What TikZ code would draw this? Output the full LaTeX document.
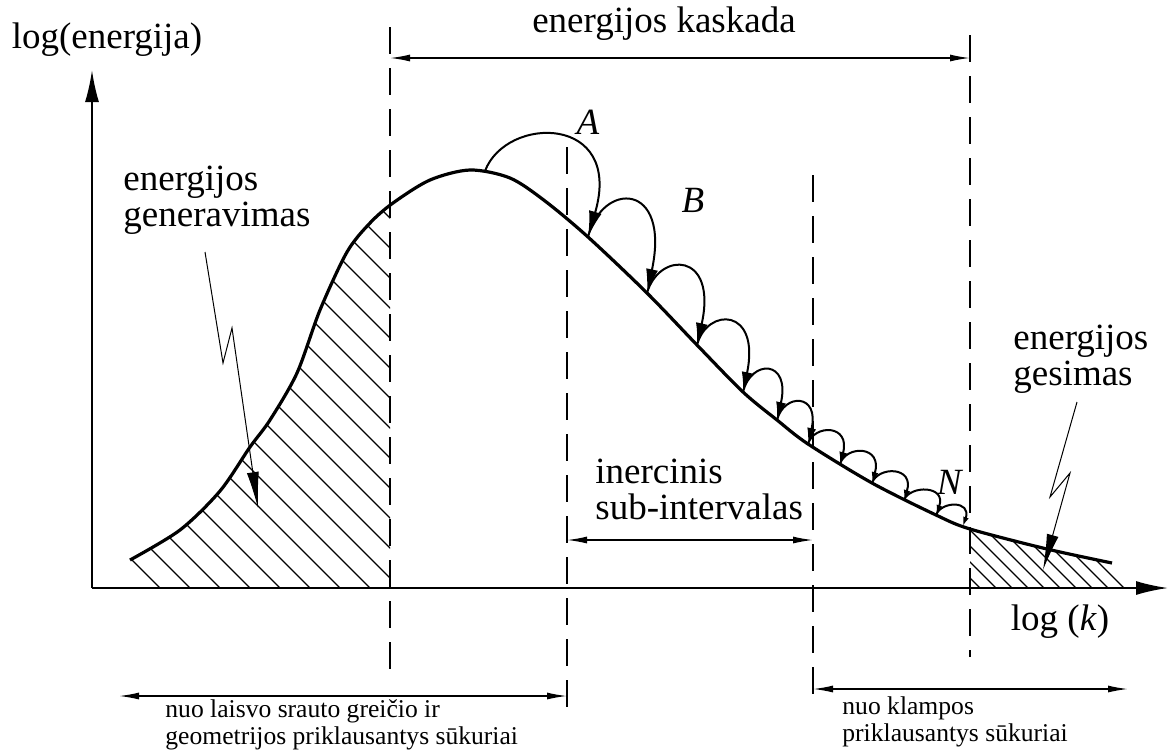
\documentclass[tikz,border=0pt]{standalone}
\usepackage{fontspec}
\setmainfont{Liberation Serif}
\usetikzlibrary{arrows.meta}

\tikzset{
  axis/.style={line width=1pt, -{Latex[length=16pt,width=7pt]}},
  spectrum/.style={line width=1.6pt},
  guide/.style={line width=0.7pt, dash pattern=on 13.5pt off 7pt},
  span/.style={line width=0.7pt, {Latex[length=10pt,width=3.5pt]}-{Latex[length=10pt,width=3.5pt]}},
  hatch/.style={line width=0.6pt},
  pointer/.style={line width=0.5pt, -{Latex[length=18pt,width=6pt]}},
  eddy/.style={line width=1pt},
  lbl/.style={font=\fontsize{18.5}{18}\selectfont, align=left, inner sep=0pt},
  note/.style={font=\fontsize{12.8}{13.2}\selectfont, align=left, inner sep=0pt},
}

% energy spectrum (pixel units, y pointing down)
\def\spectrum{plot[smooth] coordinates {(130,560) (180,530) (220,491) (250,447) (270,420)
  (297,373) (320,310) (347,252) (370,223) (393,203) (430,180) (470,170) (510,178)
  (545,201) (588,237) (647,293) (697,345) (743,392) (777,420) (808,444) (872,483)
  (936,515) (970,529) (1047,549) (1112,563)}}

\begin{document}
\begin{tikzpicture}[x=0.5pt, y=-0.5pt]
  \useasboundingbox (0,0) rectangle (1173,751);

  % hatched ranges
  \begin{scope}
    \clip (130,150) rectangle (390,588);
    \clip \spectrum -- (1125,588) -- (130,588) -- cycle;
    \foreach \x in {160,190,...,790}
      \draw[hatch] (\x,588) -- ++(-460,-460);
  \end{scope}
  \begin{scope}
    \clip (970,450) rectangle (1130,588);
    \clip \spectrum -- (1125,588) -- (130,588) -- cycle;
    \foreach \x in {980,996,...,1140}
      \draw[hatch] (\x,588) -- ++(-80,-80);
  \end{scope}

  % axes
  \coordinate (o) at (92,588);
  \coordinate (ytip) at (92,70);
  \coordinate (xtip) at (1168,588);
  \draw[axis] (o) -- (ytip);
  \draw[axis] (o) -- (xtip);
  \node (ylab) at (107,40) [lbl] {log(energija)};
  \node (xlab) at (1060,622) [lbl] {log (\textit{k})};

  % dashed limits
  \draw[guide] (390,27) -- (390,682);
  \draw[guide] (567,147) -- (567,710);
  \draw[guide] (813,175) -- (813,708);
  \draw[guide] (970,35) -- (970,657);

  \draw[spectrum] \spectrum;

  % cascade of eddies
  \coordinate (p0) at (485,171);
  \coordinate (p1) at (588,237);
  \coordinate (p2) at (647,293);
  \coordinate (p3) at (697,345);
  \coordinate (p4) at (743,392);
  \coordinate (p5) at (777,420);
  \coordinate (p6) at (808,444);
  \coordinate (p7) at (840,464);
  \coordinate (p8) at (872,483);
  \coordinate (p9) at (904,500);
  \coordinate (p10) at (936,515);
  \coordinate (p11) at (963,526);
  \foreach \s/\e/\ax/\ay/\bx/\by/\l/\w in {
      p0/p1/21/-56/36/-123/13/6.5, p1/p2/14/-56/24/-112/12/6,
      p2/p3/12/-42/21/-94/11/6, p3/p4/10/-38/18/-85/10/5.5,
      p4/p5/8/-33/14/-61/9/5, p5/p6/7/-27/12/-51/8/4.5,
      p6/p7/6/-20/11/-40/6/4, p7/p8/6/-19/11/-38/5.5/3.5,
      p8/p9/6/-17/11/-34/5/3.5, p9/p10/6/-15/11/-30/5/3,
      p10/p11/5/-14/9/-26/4.5/3}
    \draw[eddy, -{Latex[length=\l pt,width=\w pt]}]
      (\s) .. controls +(\ax,\ay) and +(\bx,\by) .. (\e);
  \node (labA) at (588,122) [lbl] {\textit{A}};
  \node (labB) at (693,200) [lbl] {\textit{B}};
  \node (labN) at (950,482) [lbl] {\textit{N}};

  % ranges
  \coordinate (c1) at (390,58);
  \coordinate (c2) at (970,58);
  \draw[span] (c1) -- (c2);
  \node (cascade) at (664,24) [lbl] {energijos kaskada};

  \coordinate (i1) at (567,540);
  \coordinate (i2) at (813,540);
  \draw[span] (i1) -- (i2);
  \node (inert) at (595,489) [lbl, anchor=west] {inercinis\\sub-intervalas};

  \coordinate (b1) at (119,696);
  \coordinate (b2) at (567,696);
  \draw[span] (b1) -- (b2);
  \node (bigeddies) at (165,725) [note, anchor=west]
    {nuo laisvo srauto greičio ir\\geometrijos priklausantys sūkuriai};

  \coordinate (s1) at (813,689);
  \coordinate (s2) at (1128,689);
  \draw[span] (s1) -- (s2);
  \node (smalleddies) at (842,722) [note, anchor=west]
    {nuo klampos\\priklausantys sūkuriai};

  % production and dissipation
  \node (gen) at (123,200) [lbl, anchor=west] {energijos\\generavimas};
  \coordinate (g1) at (205,252);
  \coordinate (g2) at (223,363);
  \coordinate (g3) at (232,328);
  \coordinate (g4) at (258,508);
  \draw[pointer] (g1) -- (g2) -- (g3) -- (g4);

  \node (decay) at (1013,359) [lbl, anchor=west] {energijos\\gesimas};
  \coordinate (d1) at (1077,402);
  \coordinate (d2) at (1050,497);
  \coordinate (d3) at (1070,473);
  \coordinate (d4) at (1043,570);
  \draw[pointer] (d1) -- (d2) -- (d3) -- (d4);
\end{tikzpicture}
\end{document}
